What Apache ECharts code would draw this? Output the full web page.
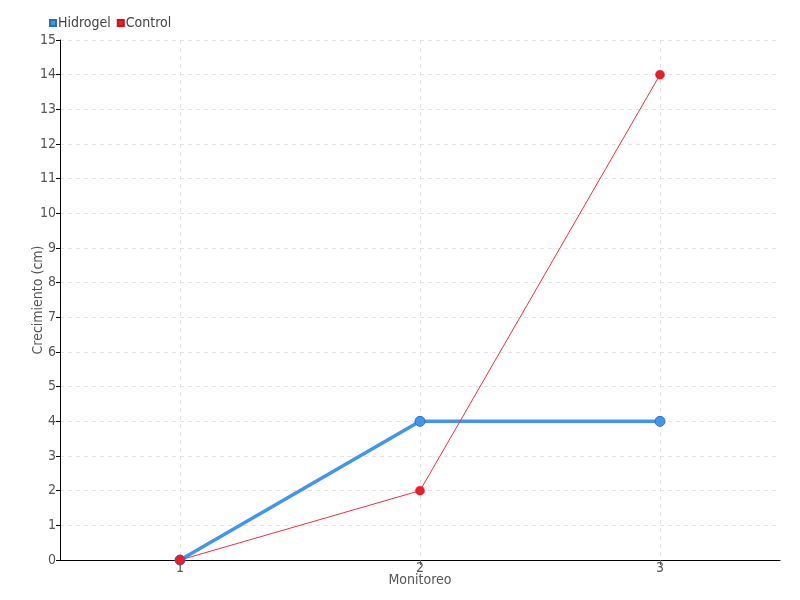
<!DOCTYPE html>
<html><head><meta charset="utf-8">
<script src="https://cdn.jsdelivr.net/npm/echarts@6/dist/echarts.min.js"></script>
<style>html,body{margin:0;padding:0;background:#fff}#c{width:800px;height:600px}</style>
</head><body><div id="c"></div>
<script>
const categories = ['1', '2', '3'];
const hidrogel = [0, 4, 4];
const control = [0, 2, 14];
const yTicks = {min: 0, max: 15, interval: 1};

const font = '"Liberation Sans Narrow", "DejaVu Sans Condensed", "Roboto", sans-serif';
const chart = echarts.init(document.getElementById('c'));
chart.setOption({
  animation: false,
  textStyle: {fontFamily: font},
  legend: {
    left: 44, top: 11, itemWidth: 6, itemHeight: 6, itemGap: 6,
    icon: 'rect',
    textStyle: {fontFamily: font, fontSize: 14, color: '#444', padding: [0, 0, 0, -3]},
    data: ['Hidrogel', 'Control']
  },
  grid: {left: 60, right: 20, top: 40, bottom: 40, containLabel: false},
  xAxis: {
    type: 'category', data: categories, boundaryGap: true,
    name: 'Monitoreo', nameLocation: 'middle', nameGap: 13, nameMoveOverlap: false,
    nameTextStyle: {fontFamily: font, fontSize: 14, color: '#555'},
    axisLine: {lineStyle: {color: '#000', width: 1}},
    axisTick: {show: true, alignWithLabel: true, length: 5, lineStyle: {color: '#555'}},
    axisLabel: {fontFamily: font, fontSize: 14, color: '#555', margin: 1},
    splitLine: {show: true, alignWithLabel: true, lineStyle: {type: [4, 4], color: '#e3e3e3'}}
  },
  yAxis: {
    type: 'value', min: yTicks.min, max: yTicks.max, interval: yTicks.interval,
    name: 'Crecimiento (cm)', nameLocation: 'middle', nameGap: 15, nameMoveOverlap: false,
    nameTextStyle: {fontFamily: font, fontSize: 14, color: '#555'},
    axisLine: {show: true, lineStyle: {color: '#000', width: 1}},
    axisTick: {show: true, length: 4, lineStyle: {color: '#000'}},
    axisLabel: {fontFamily: font, fontSize: 14, color: '#555', margin: 4},
    splitLine: {show: true, lineStyle: {type: [4, 4], color: '#e3e3e3'}}
  },
  series: [
    {
      name: 'Hidrogel', type: 'line', data: hidrogel,
      symbol: 'circle', symbolSize: 10,
      itemStyle: {color: '#4096ee', borderColor: '#2a6fc0', borderWidth: 1},
      lineStyle: {color: '#4096ee', width: 3.5}
    },
    {
      name: 'Control', type: 'line', data: control,
      symbol: 'circle', symbolSize: 9,
      itemStyle: {color: '#ee1c2a', borderColor: '#d01020', borderWidth: 0.5},
      lineStyle: {color: '#ee3040', width: 1}
    }
  ]
});
</script></body></html>
